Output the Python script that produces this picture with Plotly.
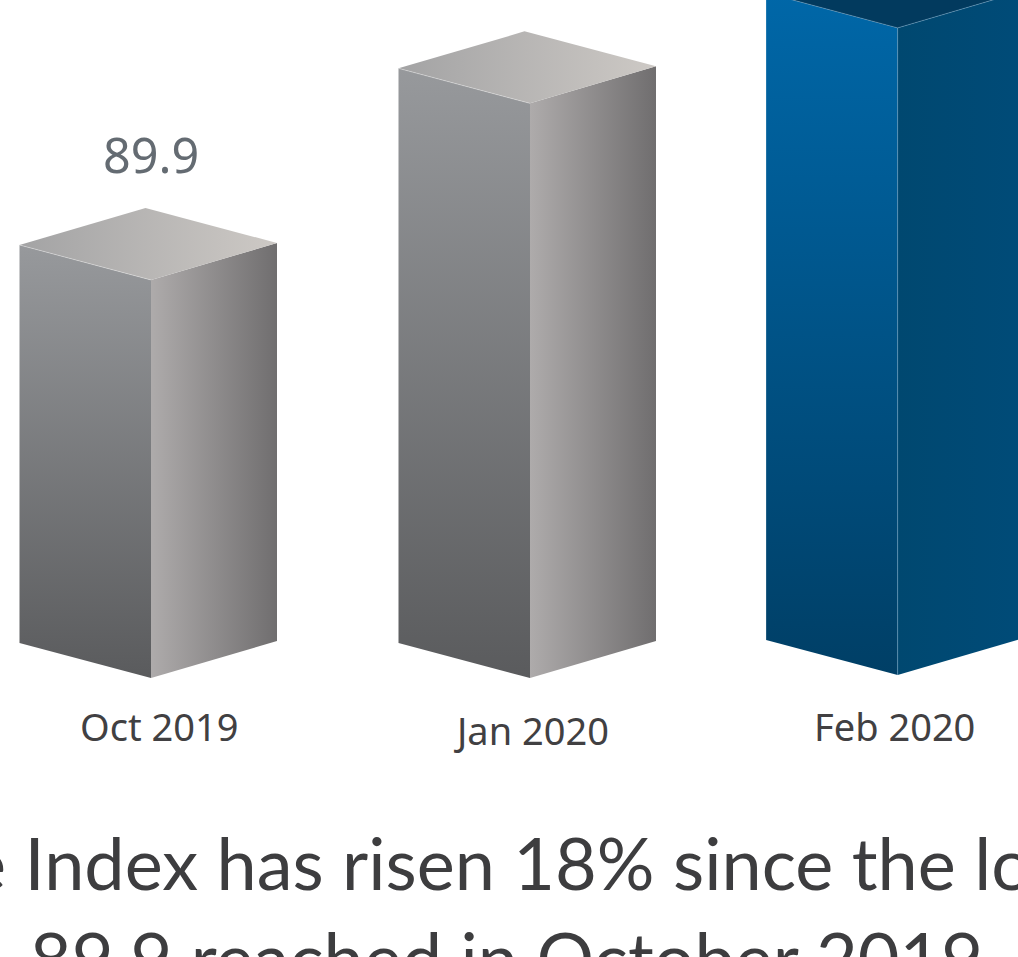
import plotly.graph_objects as go

# Index readings
categories = ["Oct 2019", "Jan 2020", "Feb 2020"]
index_values = [89.9, 101.25, 106.1]
highlight = [False, False, True]
value_labels = ["89.9", None, None]

headline_lines = [
    "The Index has risen 18% since the low of",
    "89.9 reached in October 2019.",
]

# Canvas and axis scale
WIDTH, HEIGHT = 1018, 957
PX_PER_SLOT = 379.0    # horizontal pixels between the first two bars
PX_PER_POINT = 15.56   # vertical pixels per index point
AXIS_FLOOR = 64.32     # index level where the columns are cut off
FLOOR_PX = 678.0       # pixel row of AXIS_FLOOR

X_MIN = -151.0 / PX_PER_SLOT
X_MAX = X_MIN + WIDTH / PX_PER_SLOT
Y_MAX = AXIS_FLOOR + FLOOR_PX / PX_PER_POINT
Y_MIN = Y_MAX - HEIGHT / PX_PER_POINT

# Column layout, in slots and index points
slot_positions = [0.0, 1.0, 1.97]
floor_shift = [0.0, 0.0, 0.193]
LEFT_W = 131.5 / PX_PER_SLOT
RIGHT_W = 126.0 / PX_PER_SLOT
LEFT_DROP = 35.0 / PX_PER_POINT
RIGHT_DROP = 37.0 / PX_PER_POINT

GREY = dict(
    left=["#97999c", "#5a5b5d"],
    right=["#aeabab", "#706e6f"],
    top=["#a3a3a4", "#cdc9c5"],
    edge="rgba(235,235,235,0.55)",
)
BLUE = dict(
    left=["#0067a8", "#003f66"],
    right=["#004870", "#004b78"],
    top=["#023a5e", "#023a5e"],
    edge="rgba(120,170,205,0.6)",
)


def face(fig, xs, ys, stops, orientation):
    fig.add_trace(go.Scatter(
        x=xs + xs[:1],
        y=ys + ys[:1],
        mode="lines",
        line=dict(width=0),
        fill="toself",
        fillgradient=dict(
            type=orientation,
            colorscale=[[0, stops[0]], [1, stops[1]]],
        ),
        hoverinfo="skip",
        showlegend=False,
    ))


def edge(fig, xs, ys, color):
    fig.add_trace(go.Scatter(
        x=xs,
        y=ys,
        mode="lines",
        line=dict(color=color, width=0.8),
        hoverinfo="skip",
        showlegend=False,
    ))


fig = go.Figure()

for slot, value, shift, hot in zip(slot_positions, index_values, floor_shift, highlight):
    style = BLUE if hot else GREY
    floor = AXIS_FLOOR + shift
    xl, xc, xr = slot - LEFT_W, slot, slot + RIGHT_W
    xb = xl + RIGHT_W

    # left face
    face(fig, [xl, xc, xc, xl],
         [value + LEFT_DROP, value, floor, floor + LEFT_DROP],
         style["left"][::-1], "vertical")
    # right face
    face(fig, [xc, xr, xr, xc],
         [value, value + RIGHT_DROP, floor + RIGHT_DROP, floor],
         style["right"], "horizontal")
    # top face
    face(fig, [xl, xc, xr, xb],
         [value + LEFT_DROP, value, value + RIGHT_DROP, value + LEFT_DROP + RIGHT_DROP],
         style["top"], "horizontal")
    # highlights along the shared edges
    edge(fig, [xl, xc], [value + LEFT_DROP, value], style["edge"])
    if hot:
        edge(fig, [xc, xr], [value, value + RIGHT_DROP], style["edge"])
        edge(fig, [xc, xc], [value, floor], style["edge"])

annotations = []

# Value label above the column
for slot, value, text in zip(slot_positions, index_values, value_labels):
    if text:
        annotations.append(dict(
            x=slot + 0.001, y=value + LEFT_DROP + RIGHT_DROP + 3.45,
            text=text, showarrow=False, xanchor="center", yanchor="middle",
            font=dict(family="Noto Sans", size=48.5, color="#646b72"),
        ))

# Category captions
caption_x = [0.022, 1.003, 1.962]
caption_y = [61.23, 61.01, 61.23]
for name, cx, cy in zip(categories, caption_x, caption_y):
    annotations.append(dict(
        x=cx, y=cy, text=name, showarrow=False, xanchor="center", yanchor="middle",
        font=dict(family="Noto Sans", size=38, color="#414042"),
    ))

# Headline below the chart
headline_x = [0.994, 0.96]
headline_y = [0.0995, 0.0]
for line, lx, ly in zip(headline_lines, headline_x, headline_y):
    annotations.append(dict(
        xref="x", yref="paper", x=lx, y=ly, text=line, showarrow=False,
        xanchor="center", yanchor="middle",
        font=dict(family="Lato", size=72, color="#3d3d3f"),
    ))

fig.update_layout(
    width=WIDTH,
    height=HEIGHT,
    margin=dict(l=0, r=0, t=0, b=0),
    paper_bgcolor="white",
    plot_bgcolor="white",
    showlegend=False,
    annotations=annotations,
    xaxis=dict(range=[X_MIN, X_MAX], visible=False, fixedrange=True),
    yaxis=dict(range=[Y_MIN, Y_MAX], visible=False, fixedrange=True),
)

fig.write_html("out.html", config={"displayModeBar": False})
